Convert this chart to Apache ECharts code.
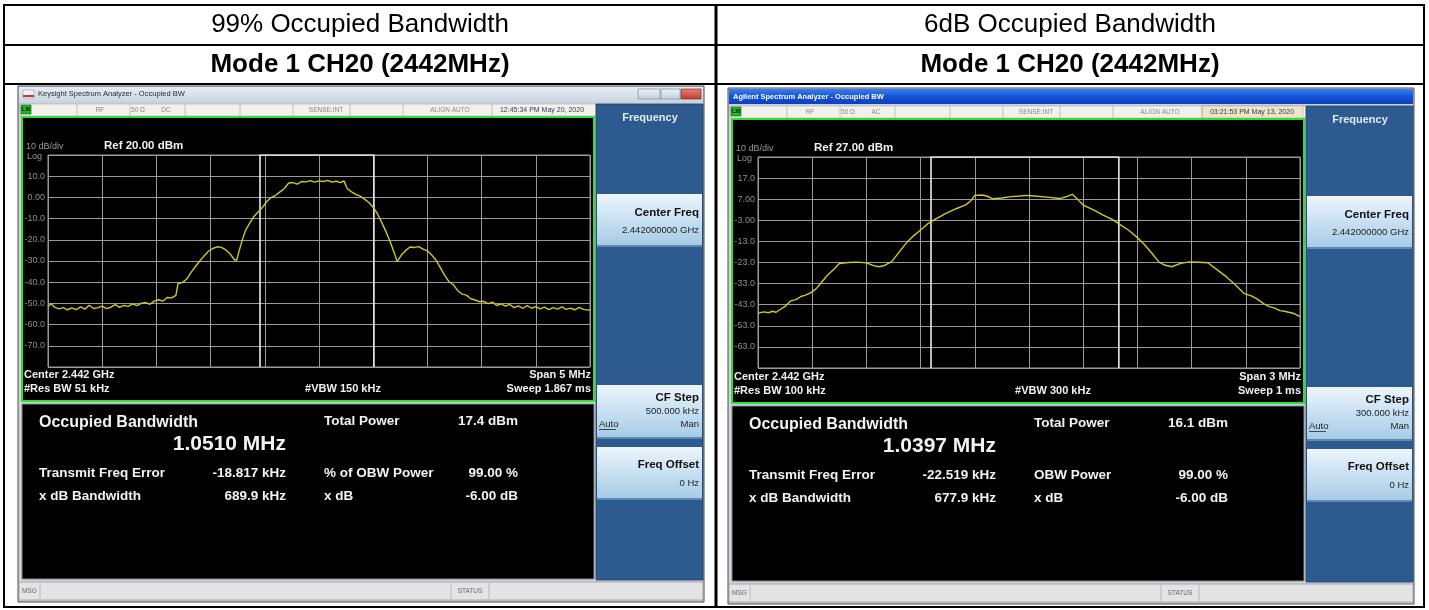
<!DOCTYPE html>
<html><head><meta charset="utf-8">
<script src="https://cdn.jsdelivr.net/npm/echarts@6/dist/echarts.min.js"></script>
<style>html,body{margin:0;padding:0;background:#fff}#c{width:1429px;height:610px}</style>
</head><body><div id="c"></div>
<script>
// ---------- data ----------
const leftFreqMHz = [-2.50,-2.47,-2.44,-2.40,-2.36,-2.32,-2.28,-2.24,-2.20,-2.16,-2.12,-2.08,-2.04,-2.00,-1.96,-1.92,-1.88,-1.84,-1.80,-1.76,-1.72,-1.68,-1.64,-1.60,-1.56,-1.52,-1.48,-1.44,-1.40,-1.36,-1.32,-1.30,-1.26,-1.22,-1.18,-1.14,-1.10,-1.06,-1.02,-0.98,-0.94,-0.90,-0.86,-0.82,-0.78,-0.76,-0.74,-0.71,-0.68,-0.64,-0.60,-0.56,-0.52,-0.48,-0.44,-0.40,-0.36,-0.32,-0.28,-0.24,-0.20,-0.16,-0.12,-0.08,-0.04,0.00,0.04,0.08,0.12,0.16,0.20,0.23,0.26,0.30,0.34,0.38,0.42,0.46,0.50,0.54,0.58,0.62,0.66,0.70,0.72,0.76,0.80,0.84,0.88,0.92,0.96,1.00,1.04,1.08,1.12,1.16,1.20,1.24,1.28,1.32,1.36,1.40,1.44,1.48,1.52,1.56,1.60,1.64,1.68,1.72,1.76,1.80,1.84,1.88,1.92,1.96,2.00,2.04,2.08,2.12,2.16,2.20,2.24,2.28,2.32,2.36,2.40,2.44,2.48,2.50];
const leftLevelDbm = [-51.5,-50.2,-51.8,-52.6,-52.0,-53.0,-52.1,-52.9,-51.6,-52.7,-50.9,-52.4,-52.0,-51.3,-52.5,-51.8,-50.6,-51.9,-50.9,-51.4,-50.2,-51.1,-50.0,-49.6,-50.4,-48.9,-48.3,-48.9,-47.2,-47.4,-46.2,-40.6,-40.2,-38.5,-35.4,-32.6,-30.0,-27.6,-25.4,-24.1,-23.3,-23.6,-24.8,-26.6,-29.4,-29.7,-25.8,-20.5,-15.8,-12.2,-9.0,-6.8,-4.6,-1.8,0.0,1.0,2.6,4.2,6.8,7.0,6.3,7.5,7.3,7.9,7.2,7.8,7.5,8.0,7.2,7.6,7.0,7.8,4.2,2.6,1.4,0.6,-0.8,-2.4,-4.6,-7.8,-12.0,-16.4,-21.4,-27.0,-30.3,-27.2,-25.0,-23.4,-23.6,-23.2,-24.4,-25.2,-27.2,-29.6,-33.2,-36.8,-39.8,-41.2,-44.0,-45.6,-46.1,-47.8,-48.4,-49.2,-49.0,-50.1,-49.4,-51.0,-50.2,-51.3,-50.5,-52.0,-51.2,-52.4,-51.0,-52.3,-51.5,-52.6,-51.8,-52.9,-52.0,-52.7,-51.6,-52.8,-52.2,-53.0,-51.9,-52.8,-53.2,-53.0];

const rightFreqMHz = [-1.50,-1.47,-1.44,-1.42,-1.40,-1.38,-1.35,-1.32,-1.29,-1.26,-1.24,-1.21,-1.18,-1.15,-1.12,-1.08,-1.05,-1.00,-0.95,-0.90,-0.86,-0.83,-0.80,-0.76,-0.72,-0.68,-0.64,-0.60,-0.56,-0.52,-0.46,-0.40,-0.35,-0.32,-0.30,-0.26,-0.23,-0.20,-0.15,-0.10,-0.05,-0.02,0.03,0.10,0.17,0.21,0.24,0.27,0.30,0.36,0.41,0.46,0.50,0.55,0.60,0.64,0.68,0.72,0.75,0.79,0.84,0.89,0.94,0.99,1.04,1.09,1.14,1.19,1.23,1.26,1.30,1.33,1.36,1.39,1.42,1.45,1.47,1.50];
const rightLevelDbm = [-47.1,-46.4,-46.8,-46.1,-46.6,-45.4,-43.8,-41.2,-40.6,-39.0,-38.6,-37.4,-35.6,-32.6,-29.4,-26.2,-23.5,-23.0,-22.8,-23.2,-24.5,-25.0,-24.4,-22.6,-18.2,-13.8,-10.4,-7.6,-4.6,-2.6,0.3,2.6,4.3,6.4,8.8,9.0,8.4,7.2,7.6,8.2,8.5,8.8,8.5,8.0,7.3,8.3,9.3,6.8,4.2,1.8,-0.5,-2.6,-4.8,-7.6,-11.2,-14.6,-18.6,-22.8,-24.2,-25.0,-23.4,-22.7,-22.9,-23.1,-26.4,-29.6,-33.4,-37.6,-38.8,-40.1,-42.6,-43.9,-44.6,-45.8,-46.2,-46.8,-47.3,-48.7];

const leftYTickLabels  = ['10.0','0.00','-10.0','-20.0','-30.0','-40.0','-50.0','-60.0','-70.0'];
const rightYTickLabels = ['17.0','7.00','-3.00','-13.0','-23.0','-33.0','-43.0','-53.0','-63.0'];

const leftRefDbm = 20, rightRefDbm = 27;
const leftSpanMHz = 5, rightSpanMHz = 3;
const leftObwMHz = 1.0510, rightObwMHz = 1.0397;
const leftFreqErrKHz = -18.817, rightFreqErrKHz = -22.519;

const leftHeader  = ['99% Occupied Bandwidth', 'Mode 1 CH20 (2442MHz)'];
const rightHeader = ['6dB Occupied Bandwidth', 'Mode 1 CH20 (2442MHz)'];
const leftTitle  = ['Keysight Spectrum Analyzer - Occupied BW', 'DC', '12:45:34 PM May 20, 2020'];
const rightTitle = ['Agilent Spectrum Analyzer - Occupied BW', 'AC', '03:21:53 PM May 13, 2020'];
const leftSetup  = ['Ref 20.00 dBm', 'Center 2.442 GHz', '#Res BW 51 kHz', '#VBW 150 kHz', 'Span 5 MHz', 'Sweep 1.867 ms'];
const rightSetup = ['Ref 27.00 dBm', 'Center 2.442 GHz', '#Res BW 100 kHz', '#VBW 300 kHz', 'Span 3 MHz', 'Sweep 1 ms'];
const leftLabels  = ['Occupied Bandwidth', 'Total Power', 'Transmit Freq Error', '% of OBW Power', 'x dB Bandwidth', 'x dB'];
const rightLabels = ['Occupied Bandwidth', 'Total Power', 'Transmit Freq Error', 'OBW Power', 'x dB Bandwidth', 'x dB'];
const leftValues  = ['1.0510 MHz', '17.4 dBm', '-18.817 kHz', '99.00 %', '689.9 kHz', '-6.00 dB'];
const rightValues = ['1.0397 MHz', '16.1 dBm', '-22.519 kHz', '99.00 %', '677.9 kHz', '-6.00 dB'];
const leftKeys  = ['Frequency', 'Center Freq', '2.442000000 GHz', 'CF Step', '500.000 kHz', 'Auto', 'Man', 'Freq Offset', '0 Hz'];
const rightKeys = ['Frequency', 'Center Freq', '2.442000000 GHz', 'CF Step', '300.000 kHz', 'Auto', 'Man', 'Freq Offset', '0 Hz'];

// ---------- drawing ----------
const FF = '"Liberation Sans", Arial, sans-serif';
const el = [];
function R(x, y, w, h, fill, stroke, lw, z) {
  el.push({type: 'rect', silent: true, z: z == null ? -5 : z, shape: {x, y, width: w, height: h},
    style: {fill, stroke: stroke || null, lineWidth: lw || 1}});
}
function L(x1, y1, x2, y2, stroke, lw, z) {
  el.push({type: 'line', silent: true, z: z == null ? -4 : z, shape: {x1, y1, x2, y2}, style: {stroke, lineWidth: lw || 1}});
}
function T(x, y, text, font, fill, align) {
  el.push({type: 'text', silent: true, z: 10, x, y,
    style: {text, font, fill, textAlign: align || 'left', align: align || 'left', textVerticalAlign: 'middle', verticalAlign: 'middle'}});
}
function grad(stops) {
  return new echarts.graphic.LinearGradient(0, 0, 0, 1, stops.map((c, i) => ({offset: i / (stops.length - 1), color: c})));
}

function screen(dx, dy, agilent, header, title, setup, labels, values, keys) {
  const X = v => v + dx, Y = v => v + dy;
  // table headers
  T(X(360), 25, header[0], '26px ' + FF, '#000', 'center');
  T(X(360), 65, header[1], 'bold 26px ' + FF, '#000', 'center');
  // window frame
  R(X(18), Y(86), 686, 516, '#cdd3da', '#4d4d4d', 1);
  if (agilent) {
    R(X(19), Y(87), 684, 15, grad(['#3b7fee', '#1453d6', '#0c3fc0']));
    T(X(23), Y(94.5), title[0], 'bold 7.5px ' + FF, '#fff', 'left');
  } else {
    R(X(19), Y(87), 684, 14, grad(['#e6edf5', '#cdd8e5']));
    R(X(23), Y(90), 11, 8, '#f4f4f4', '#888', 0.5);
    R(X(23), Y(95), 11, 2, '#d0302a');
    T(X(38), Y(94), title[0], '7.5px ' + FF, '#2b2b2b', 'left');
    R(X(638), Y(89), 22, 10, grad(['#eef3f8', '#c3cfdc']), '#7d8a99', 0.7);
    R(X(661), Y(89), 19, 10, grad(['#eef3f8', '#c3cfdc']), '#7d8a99', 0.7);
    R(X(681), Y(89), 20, 10, grad(['#e6867a', '#c13b2c']), '#7a2a22', 0.7);
  }
  // status row
  R(X(20), Y(104), 576, 12, '#f3f1ec', '#a8a8a8', 0.6);
  if (agilent) R(X(492), Y(104), 101, 12, '#eee4c8', '#a8a8a8', 0.6);
  [77, 130, 185, 240, 293, 350, 403, 492].forEach(x => L(X(x), Y(104), X(x), Y(116), '#b5b5b5', 0.8));
  R(X(21), Y(105), 10, 9, '#23b823', '#0b4d0b', 0.6);
  T(X(26), Y(110), 'LXI', 'bold 5px ' + FF, '#000', 'center');
  T(X(100), Y(110), 'RF', '6.5px ' + FF, '#888', 'center');
  T(X(138), Y(110), '50 Ω', '6.5px ' + FF, '#888', 'center');
  T(X(166), Y(110), title[1], '6.5px ' + FF, '#888', 'center');
  T(X(326), Y(110), 'SENSE:INT', '6.5px ' + FF, '#888', 'center');
  T(X(450), Y(110), 'ALIGN AUTO', '6.5px ' + FF, '#888', 'center');
  T(X(542), Y(110), title[2], '7px ' + FF, '#3a3a5a', 'center');
  // softkey panel
  R(X(596), Y(104), 107, 476, '#2d5b8f', '#1d3f66', 0.8);
  T(X(650), Y(118), keys[0], 'bold 11px ' + FF, '#e1eaf4', 'center');
  const btn = (y, h) => { R(X(597), Y(y), 105, h, grad(['#eef6fc', '#c7e0f2', '#a6cbe6']), null, 1, -4); L(X(597), Y(y + h), X(702), Y(y + h), '#5f89b3', 2, -3); };
  btn(194, 52); btn(385, 53); btn(447, 52);
  T(X(699), Y(213), keys[1], 'bold 11.5px ' + FF, '#111', 'right');
  T(X(699), Y(230), keys[2], '9.5px ' + FF, '#222', 'right');
  T(X(699), Y(398), keys[3], 'bold 11.5px ' + FF, '#111', 'right');
  T(X(699), Y(411), keys[4], '9.5px ' + FF, '#222', 'right');
  T(X(599), Y(424), keys[5], '9.5px ' + FF, '#222', 'left');
  L(X(599), Y(429.5), X(616), Y(429.5), '#222', 0.8, 11);
  T(X(699), Y(424), keys[6], '9.5px ' + FF, '#222', 'right');
  T(X(699), Y(465), keys[7], 'bold 11.5px ' + FF, '#111', 'right');
  T(X(699), Y(483), keys[8], '9.5px ' + FF, '#222', 'right');
  // plot area
  R(X(22), Y(117), 572, 284, '#000', '#2fe02f', 2);
  T(X(26), Y(147), '10 dB/div', '9px ' + FF, '#9a9a9a', 'left');
  T(X(27), Y(157), 'Log', '9px ' + FF, '#9a9a9a', 'left');
  T(X(104), Y(146), setup[0], 'bold 11.5px ' + FF, '#f0f0f0', 'left');
  T(X(24), Y(375), setup[1], 'bold 11px ' + FF, '#f0f0f0', 'left');
  T(X(24), Y(389), setup[2], 'bold 11px ' + FF, '#f0f0f0', 'left');
  T(X(343), Y(389), setup[3], 'bold 11px ' + FF, '#f0f0f0', 'center');
  T(X(591), Y(375), setup[4], 'bold 11px ' + FF, '#f0f0f0', 'right');
  T(X(591), Y(389), setup[5], 'bold 11px ' + FF, '#f0f0f0', 'right');
  // result panel
  R(X(22), Y(404), 572, 175, '#000', '#8a8a8a', 1);
  T(X(39), Y(423), labels[0], 'bold 16px ' + FF, '#f2f2f2', 'left');
  T(X(286), Y(444), values[0], 'bold 21px ' + FF, '#f2f2f2', 'right');
  T(X(324), Y(421), labels[1], 'bold 13.5px ' + FF, '#f2f2f2', 'left');
  T(X(518), Y(421), values[1], 'bold 13.5px ' + FF, '#f2f2f2', 'right');
  T(X(39), Y(473), labels[2], 'bold 13.5px ' + FF, '#f2f2f2', 'left');
  T(X(286), Y(473), values[2], 'bold 13.5px ' + FF, '#f2f2f2', 'right');
  T(X(324), Y(473), labels[3], 'bold 13.5px ' + FF, '#f2f2f2', 'left');
  T(X(518), Y(473), values[3], 'bold 13.5px ' + FF, '#f2f2f2', 'right');
  T(X(39), Y(496), labels[4], 'bold 13.5px ' + FF, '#f2f2f2', 'left');
  T(X(286), Y(496), values[4], 'bold 13.5px ' + FF, '#f2f2f2', 'right');
  T(X(324), Y(496), labels[5], 'bold 13.5px ' + FF, '#f2f2f2', 'left');
  T(X(518), Y(496), values[5], 'bold 13.5px ' + FF, '#f2f2f2', 'right');
  // bottom status bar
  R(X(19), Y(582), 684, 18, '#e4e4e8', '#9a9a9a', 0.8);
  L(X(40), Y(583), X(40), Y(599), '#b0b0b0', 0.8);
  L(X(451), Y(583), X(451), Y(599), '#b0b0b0', 0.8);
  L(X(489), Y(583), X(489), Y(599), '#b0b0b0', 0.8);
  T(X(22), Y(591), 'MSG', '6.5px ' + FF, '#666', 'left');
  T(X(470), Y(591), 'STATUS', '6.5px ' + FF, '#666', 'center');
}

// table borders
L(3, 5, 1425, 5, '#000', 2, 20);
L(3, 45, 1425, 45, '#000', 2, 20);
L(3, 84, 1425, 84, '#000', 2, 20);
L(3, 607, 1425, 607, '#000', 2, 20);
L(4, 4, 4, 608, '#000', 2, 20);
L(716, 4, 716, 608, '#000', 3, 20);
L(1424, 4, 1424, 608, '#000', 2, 20);

screen(0, 0, false, leftHeader, leftTitle, leftSetup, leftLabels, leftValues, leftKeys);
screen(710, 2, true, rightHeader, rightTitle, rightSetup, rightLabels, rightValues, rightKeys);

// ---------- axes & series ----------
const gridLine = {show: true, lineStyle: {color: '#9a9a9a', width: 1}};
function yLabel(ref, labels) {
  return v => { const i = Math.round((ref - v) / 10) - 1; return labels[i] || ''; };
}
function markerPts(obw, errKHz, ref) {
  const c = errKHz / 1000, lo = c - obw / 2, hi = c + obw / 2, bot = ref - 100;
  return [[lo, bot], [lo, ref], [hi, ref], [hi, bot]];
}
const pair = (f, l) => f.map((v, i) => [v, l[i]]);

const option = {
  backgroundColor: '#ffffff',
  animation: false,
  graphic: {elements: el},
  grid: [
    {left: 48, top: 155, width: 542, height: 212, show: true, borderColor: '#9a9a9a', borderWidth: 1, backgroundColor: 'transparent'},
    {left: 758, top: 157, width: 542, height: 211, show: true, borderColor: '#9a9a9a', borderWidth: 1, backgroundColor: 'transparent'}
  ],
  xAxis: [
    {gridIndex: 0, type: 'value', min: -leftSpanMHz / 2, max: leftSpanMHz / 2, interval: leftSpanMHz / 10,
      axisLabel: {show: false}, axisTick: {show: false}, axisLine: {show: false}, splitLine: gridLine},
    {gridIndex: 1, type: 'value', min: -rightSpanMHz / 2, max: rightSpanMHz / 2, interval: rightSpanMHz / 10,
      axisLabel: {show: false}, axisTick: {show: false}, axisLine: {show: false}, splitLine: gridLine}
  ],
  yAxis: [
    {gridIndex: 0, type: 'value', min: leftRefDbm - 100, max: leftRefDbm, interval: 10,
      axisLabel: {formatter: yLabel(leftRefDbm, leftYTickLabels), color: '#8f8f8f', fontSize: 9, margin: 3, fontFamily: FF, showMinLabel: true, showMaxLabel: true},
      axisTick: {show: false}, axisLine: {show: false}, splitLine: gridLine},
    {gridIndex: 1, type: 'value', min: rightRefDbm - 100, max: rightRefDbm, interval: 10,
      axisLabel: {formatter: yLabel(rightRefDbm, rightYTickLabels), color: '#8f8f8f', fontSize: 9, margin: 3, fontFamily: FF, showMinLabel: true, showMaxLabel: true},
      axisTick: {show: false}, axisLine: {show: false}, splitLine: gridLine}
  ],
  series: [
    {type: 'line', xAxisIndex: 0, yAxisIndex: 0, data: markerPts(leftObwMHz, leftFreqErrKHz, leftRefDbm),
      showSymbol: false, symbol: 'none', lineStyle: {color: '#ececec', width: 1.6}, z: 2, silent: true},
    {type: 'line', xAxisIndex: 1, yAxisIndex: 1, data: markerPts(rightObwMHz, rightFreqErrKHz, rightRefDbm),
      showSymbol: false, symbol: 'none', lineStyle: {color: '#ececec', width: 1.6}, z: 2, silent: true},
    {type: 'line', xAxisIndex: 0, yAxisIndex: 0, data: pair(leftFreqMHz, leftLevelDbm),
      showSymbol: false, symbol: 'none', lineStyle: {color: '#d0c924', width: 1.4}, z: 3, silent: true},
    {type: 'line', xAxisIndex: 1, yAxisIndex: 1, data: pair(rightFreqMHz, rightLevelDbm),
      showSymbol: false, symbol: 'none', lineStyle: {color: '#d0c924', width: 1.4}, z: 3, silent: true}
  ]
};
const chart = echarts.init(document.getElementById('c'), null, {renderer: 'canvas'});
chart.setOption(option);
</script>
</body></html>
